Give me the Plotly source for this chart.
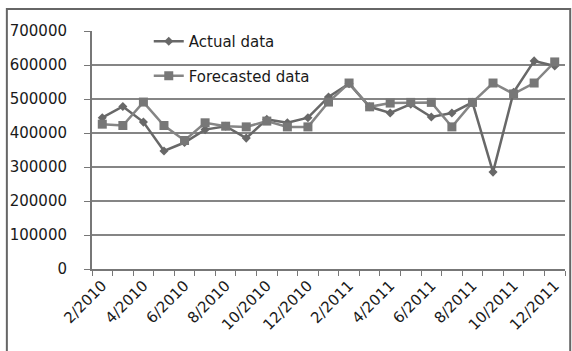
import plotly.graph_objects as go

months = ["2/2010", "3/2010", "4/2010", "5/2010", "6/2010", "7/2010", "8/2010", "9/2010",
          "10/2010", "11/2010", "12/2010", "1/2011", "2/2011", "3/2011", "4/2011", "5/2011",
          "6/2011", "7/2011", "8/2011", "9/2011", "10/2011", "11/2011", "12/2011"]
actual = [445000, 478000, 432000, 347000, 372000, 410000, 420000, 385000,
          440000, 430000, 445000, 506000, 545000, 477000, 459000, 485000,
          447000, 459000, 490000, 285000, 520000, 612000, 597000]
forecast = [426000, 422000, 491000, 422000, 378000, 430000, 420000, 418000,
            435000, 418000, 418000, 491000, 547000, 477000, 488000, 490000,
            490000, 418000, 490000, 547000, 515000, 547000, 609000]
tick_labels = [m if i % 2 == 0 else "" for i, m in enumerate(months)]
y_ticks = [0, 100000, 200000, 300000, 400000, 500000, 600000, 700000]

fig = go.Figure()
fig.add_trace(go.Scatter(
    x=months, y=actual, name="Actual data", mode="lines+markers",
    line=dict(color="#686868", width=2.5),
    marker=dict(symbol="diamond", size=7, color="#686868"),
    legendgroup="a"))
fig.add_trace(go.Scatter(
    x=months, y=forecast, name="Forecasted data", mode="lines+markers",
    line=dict(color="#858585", width=2.5),
    marker=dict(symbol="square", size=9, color="#777777"),
    legendgroup="f"))

fig.update_layout(
    width=572, height=351,
    margin=dict(l=92, r=7, t=31, b=82),
    paper_bgcolor="white", plot_bgcolor="white",
    font=dict(family="DejaVu Sans", size=14, color="#1a1a1a"),
    showlegend=True,
    legend=dict(x=0.12, y=1.025, xanchor="left", yanchor="top",
                bgcolor="rgba(0,0,0,0)", borderwidth=0,
                font=dict(size=15, color="#1a1a1a"),
                tracegroupgap=12, traceorder="grouped"),
    xaxis=dict(
        type="category", categoryorder="array", categoryarray=months,
        tickmode="array", tickvals=months, ticktext=tick_labels,
        tickangle=-45, tickson="boundaries", ticks="outside", ticklen=5,
        tickcolor="#777", showline=True, linecolor="#777", linewidth=2,
        showgrid=False, zeroline=False,
        tickfont=dict(size=15, family="DejaVu Sans", color="#1a1a1a"),
        range=[-0.5, len(months) - 0.5]),
    yaxis=dict(
        range=[0, 700000], tickmode="array", tickvals=y_ticks,
        ticktext=[str(v) for v in y_ticks],
        showgrid=True, gridcolor="#858585", gridwidth=1.8,
        showline=True, linecolor="#777", linewidth=2,
        ticks="outside", ticklen=6, tickcolor="#777",
        ticklabelstandoff=14, zeroline=False,
        tickfont=dict(size=15, family="DejaVu Sans", color="#1a1a1a")),
    shapes=[dict(type="rect", xref="paper", yref="paper",
                 x0=-0.18, x1=1.011, y0=-0.5, y1=1.092,
                 line=dict(color="#666", width=2), fillcolor="rgba(0,0,0,0)",
                 layer="below")],
)

fig.write_html("out.html")
